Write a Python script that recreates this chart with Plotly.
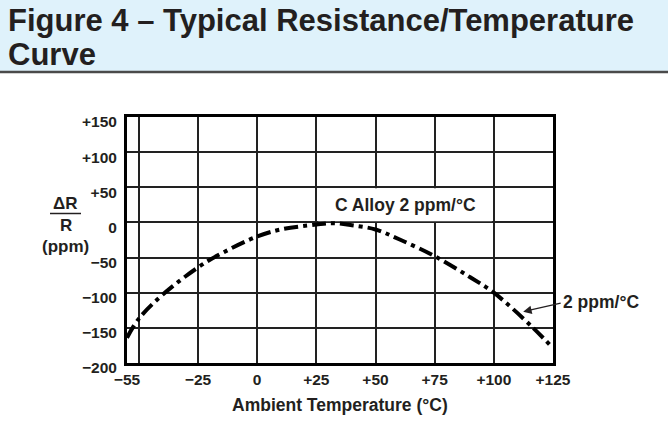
import plotly.graph_objects as go

# Data
temps = [-55, -50, -40, -25, -15, 0, 10, 25, 32, 40, 50, 60, 75, 90, 100, 116, 125]
delta_r = [-164, -137, -103, -64, -44, -20, -10, -3, -1, -4, -10, -24, -48, -78, -100, -148, -179]

x_tickvals = [-55, -50, -25, 0, 25, 50, 75, 100, 125]
x_ticktext = ["\u221255", "", "\u221225", "0", "+25", "+50", "+75", "+100", "+125"]
y_tickvals = [150, 100, 50, 0, -50, -100, -150, -200]
y_ticktext = ["+150", "+100", "+50", "0", "\u221250", "\u2212100", "\u2212150", "\u2212200"]

W, H = 668, 432
L, R, T, B = 127, 115, 117, 69
PW, PH = W - L - R, H - T - B


def px(xp):
    return (xp - L) / PW


def py(yp):
    return (H - B - yp) / PH


FONT = "Liberation Sans, Arial, sans-serif"
TXT = "#231f20"

fig = go.Figure()
fig.add_trace(go.Scatter(
    x=temps, y=delta_r, mode="lines",
    line=dict(color="black", width=4, dash="14px,5px,4px,5px", shape="spline"),
    hoverinfo="skip", showlegend=False,
))

shapes = [
    # header band
    dict(type="rect", xref="paper", yref="paper", x0=px(0), x1=px(W), y0=py(72), y1=py(0),
         fillcolor="#dff2fb", line=dict(width=0), layer="below"),
    dict(type="line", xref="paper", yref="paper", x0=px(0), x1=px(W), y0=py(72), y1=py(72),
         line=dict(color="#4a4a4a", width=2.5)),
    # white box behind label
    dict(type="rect", xref="x", yref="y", x0=25.8, x1=99.2, y0=1.5, y1=48.5,
         fillcolor="white", line=dict(width=0), layer="between"),
    # fraction bar of dR/R
    dict(type="line", xref="paper", yref="paper", x0=px(50), x1=px(81), y0=py(213.5), y1=py(213.5),
         line=dict(color=TXT, width=1.5)),
]

annotations = [
    dict(text="<b>Figure 4 \u2013 Typical Resistance/Temperature</b>", xref="paper", yref="paper",
         x=px(6), y=py(20), xanchor="left", yanchor="middle", showarrow=False,
         font=dict(family=FONT, size=31, color=TXT)),
    dict(text="<b>Curve</b>", xref="paper", yref="paper",
         x=px(6), y=py(54), xanchor="left", yanchor="middle", showarrow=False,
         font=dict(family=FONT, size=31, color=TXT)),
    dict(text="<b>C Alloy 2 ppm/\u00b0C</b>", xref="paper", yref="paper",
         x=px(405), y=py(205), xanchor="center", yanchor="middle", showarrow=False,
         font=dict(family=FONT, size=17.5, color=TXT)),
    dict(text="<b>2 ppm/\u00b0C</b>", xref="paper", yref="paper",
         x=px(561), y=py(302), xanchor="left", yanchor="middle", showarrow=False,
         font=dict(family=FONT, size=17.5, color=TXT)),
    dict(text="", x=112.4, y=-127, xref="x", yref="y", ax=39, ay=-9, showarrow=True,
         arrowhead=2, arrowsize=1.3, arrowwidth=1.3, arrowcolor=TXT),
    dict(text="<b>\u0394R</b>", xref="paper", yref="paper", x=px(65.5), y=py(203),
         xanchor="center", yanchor="middle", showarrow=False, font=dict(family=FONT, size=17, color=TXT)),
    dict(text="<b>R</b>", xref="paper", yref="paper", x=px(65.5), y=py(225),
         xanchor="center", yanchor="middle", showarrow=False, font=dict(family=FONT, size=17, color=TXT)),
    dict(text="<b>(ppm)</b>", xref="paper", yref="paper", x=px(65), y=py(246),
         xanchor="center", yanchor="middle", showarrow=False, font=dict(family=FONT, size=17, color=TXT)),
    dict(text="<b>Ambient Temperature (\u00b0C)</b>", xref="paper", yref="paper", x=px(340), y=py(405),
         xanchor="center", yanchor="middle", showarrow=False, font=dict(family=FONT, size=17.5, color=TXT)),
]

fig.update_layout(
    width=W, height=H,
    margin=dict(l=L, r=R, t=T, b=B, pad=0),
    paper_bgcolor="white", plot_bgcolor="white",
    shapes=shapes, annotations=annotations,
    xaxis=dict(range=[-55, 125], tickvals=x_tickvals, ticktext=x_ticktext,
               showgrid=True, gridcolor="#222", gridwidth=1.5, zeroline=False,
               showline=True, linecolor="black", linewidth=3, mirror=True, ticks="",
               tickfont=dict(family=FONT, size=15.5, color=TXT, weight="bold"),
               ticklabelstandoff=0),
    yaxis=dict(range=[-200, 150], tickvals=y_tickvals, ticktext=y_ticktext,
               showgrid=True, gridcolor="#222", gridwidth=1.5, zeroline=False,
               showline=True, linecolor="black", linewidth=3, mirror=True, ticks="",
               tickfont=dict(family=FONT, size=15.5, color=TXT, weight="bold"),
               ticklabelstandoff=4, ticklabelshift=5),
)

fig.write_html("out.html", config={"displayModeBar": False},
               post_script="document.body.style.margin='0';document.body.style.overflow='hidden';")
